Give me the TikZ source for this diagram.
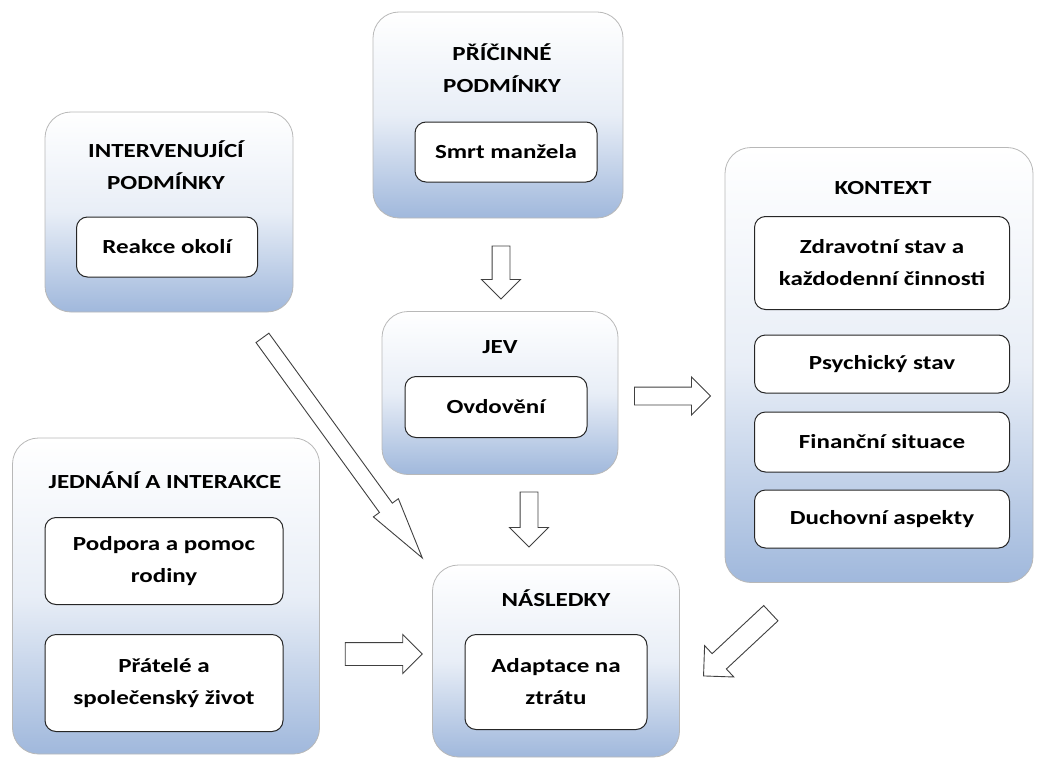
\documentclass[tikz,border=0pt]{standalone}
\usepackage{fontspec}
\setmainfont[FakeStretch=1.25]{Carlito}
\usetikzlibrary{shapes.arrows}
\definecolor{boxblue}{RGB}{160,184,220}
\tikzset{
TXT/.style={font=\fontsize{20}{32}\selectfont\bfseries, align=center, inner sep=0pt},
OUTER/.style 2 args={draw=black!28, line width=0.8pt, rounded corners=26pt,
	top color=white, bottom color=boxblue, middle color=white!76!boxblue,
	minimum width=#1, minimum height=#2, inner sep=0pt},
INNER/.style 2 args={TXT, draw=black!85, line width=1pt, fill=white, rounded corners=11pt,
	minimum width=#1, minimum height=#2},
BARROW/.style={single arrow, draw=black!75, fill=white, line width=0.9pt, inner sep=8.5pt,
	single arrow head extend=10.5pt, single arrow tip angle=90, minimum height=#1},
}
\begin{document}
\begin{tikzpicture}[x=1pt,y=-1pt]
	\useasboundingbox (0,0) rectangle (1040,757);
	%cause
	\node[OUTER={250pt}{206pt}] (pric) at (498,115) {};
	\node[TXT] (pricT) at (502,68) {PŘÍČINNÉ\\PODMÍNKY};
	\node[INNER={182pt}{60pt}] (smrt) at (506,152) {Smrt manžela};
	%intervening
	\node[OUTER={248pt}{200pt}] (inter) at (169,212) {};
	\node[TXT] (interT) at (166,165) {INTERVENUJÍCÍ\\PODMÍNKY};
	\node[INNER={181pt}{60pt}] (reakce) at (167,247) {Reakce okolí};
	%phenomenon
	\node[OUTER={236pt}{163pt}] (jev) at (500,393) {};
	\node[TXT] (jevT) at (500,347) {JEV};
	\node[INNER={182pt}{61pt}] (ovdov) at (496,407) {Ovdovění};
	%context
	\node[OUTER={308pt}{435pt}] (kont) at (879,365) {};
	\node[TXT] (kontT) at (883,188) {KONTEXT};
	\node[INNER={255pt}{93pt}] (zdrav) at (882,263) {Zdravotní stav a\\každodenní činnosti};
	\node[INNER={255pt}{58pt}] (psych) at (882,364) {Psychický stav};
	\node[INNER={255pt}{60pt}] (finan) at (882,442) {Finanční situace};
	\node[INNER={255pt}{58pt}] (duch) at (882,519) {Duchovní aspekty};
	%actions
	\node[OUTER={307pt}{316pt}] (jedn) at (166,596) {};
	\node[TXT] (jednT) at (165,480) {JEDNÁNÍ A INTERAKCE};
	\node[INNER={238pt}{87pt}] (podpora) at (164,561) {Podpora a pomoc\\rodiny};
	\node[INNER={238pt}{97pt}] (pratele) at (164,683) {Přátelé a\\společenský život};
	%consequences
	\node[OUTER={247pt}{192pt}] (nasl) at (556,661) {};
	\node[TXT] (naslT) at (556,598) {NÁSLEDKY};
	\node[INNER={182pt}{95pt}] (adapt) at (556,682) {Adaptace na\\ztrátu};
	%arrows
	\node[BARROW={53pt}, rotate=-90] (pricjev) at (501,268) {};
	\node[BARROW={55pt}, rotate=-90] (jevnasl) at (529,515) {};
	\node[BARROW={76pt}, single arrow head extend=10pt] (jevkont) at (668,396) {};
	\node[BARROW={77pt}, inner sep=11pt, single arrow head extend=8pt] (jednnasl) at (378,654) {};
	\node[BARROW={92pt}, inner sep=10pt, single arrow head extend=11pt, rotate=223] (kontnasl) at (741,641) {};
	\node[BARROW={272pt}, inner sep=7.5pt, single arrow head extend=7.5pt, single arrow tip angle=28, rotate=-54] (internasl) at (333,435) {};
\end{tikzpicture}
\end{document}
